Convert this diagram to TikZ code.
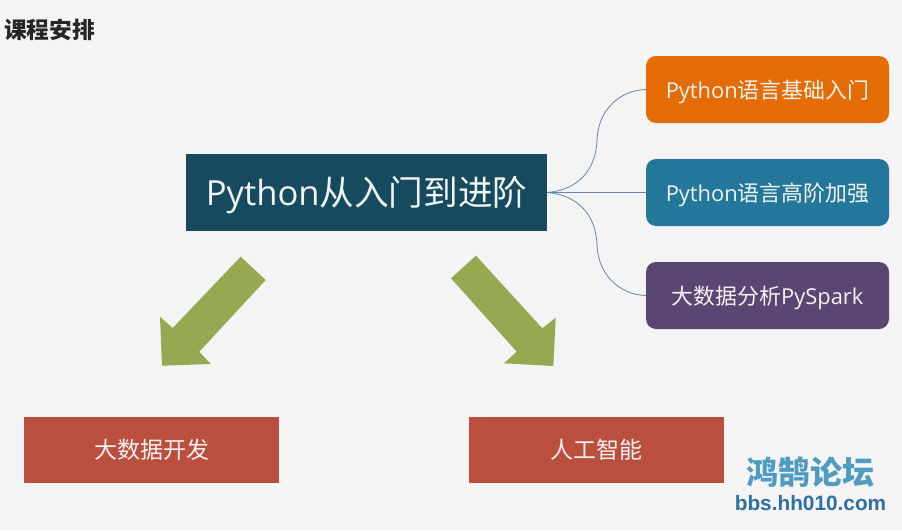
\documentclass[tikz,border=0pt]{standalone}
\usepackage{fontspec}
\setmainfont{Open Sans}
\newfontfamily\cjk{Noto Sans CJK SC}
\newfontfamily\logolat{Liberation Sans}
\begin{document}
\begin{tikzpicture}[x=1pt,y=-1pt,
  boxbase/.style={inner sep=0pt,outer sep=0pt,text=white!95!black,align=center},
  sidebox/.style={boxbase,minimum width=243pt,minimum height=67pt,rounded corners=10pt,text height=22pt,text depth=5pt,font=\fontsize{21.9}{25}\selectfont},
  redbox/.style={boxbase,minimum width=255pt,minimum height=66pt,fill=redb,font=\fontsize{23}{27}\selectfont},
  mainbox/.style={boxbase,minimum width=361pt,minimum height=77pt,fill=mainb,text height=32pt,text depth=6pt,font=\fontsize{34.6}{38}\selectfont},
  link/.style={draw=linkc,line width=0.8pt},
  bigarrow/.style={fill=arrowg,draw=none}]
\definecolor{bg}{HTML}{F4F4F4}
\definecolor{orangeb}{HTML}{E36C05}
\definecolor{tealb}{HTML}{23779A}
\definecolor{purpleb}{HTML}{5A4672}
\definecolor{mainb}{HTML}{164A5F}
\definecolor{redb}{HTML}{BB4F3E}
\definecolor{arrowg}{HTML}{95A950}
\definecolor{linkc}{HTML}{6486AE}
\definecolor{logoa}{HTML}{4F9CC0}
\definecolor{logob}{HTML}{2F6FA3}
\fill[bg] (0,0) rectangle (902,530);
\useasboundingbox (0,0) rectangle (902,530);
\node[anchor=west,inner sep=0pt,font=\fontsize{22.7}{26}\selectfont\cjk\bfseries,text=black!85] (title) at (4,30) {课程安排};
\node[mainbox] (main) at (366.5,192.5) {Python{\cjk 从入门到进阶}};
\node[sidebox,fill=orangeb] (s1) at (767.5,89.5) {Python{\cjk 语言基础入门}};
\node[sidebox,fill=tealb] (s2) at (767.5,192.5) {Python{\cjk 语言高阶加强}};
\node[sidebox,fill=purpleb] (s3) at (767.5,295.5) {{\cjk 大数据分析}PySpark};
\node[redbox] (r1) at (151.5,450) {\cjk 大数据开发};
\node[redbox] (r2) at (596.5,450) {\cjk 人工智能};
\draw[link] (main.east) .. controls (578,190) and (596,170) .. (597,140) .. controls (598,110) and (620,90) .. (s1.west);
\draw[link] (main.east) -- (s2.west);
\draw[link] (main.east) .. controls (578,195) and (596,215) .. (597,245) .. controls (598,275) and (620,295) .. (s3.west);
\fill[bigarrow] (240.7,256.7) -- (265.7,280) -- (199.3,351.7) -- (210.7,364) -- (162,365.7) -- (160,316.7) -- (172.7,328) -- cycle;
\fill[bigarrow] (476,255.7) -- (451,278.3) -- (516.7,351.7) -- (504,363.3) -- (553.3,366) -- (555.7,317.7) -- (542.3,328.3) -- cycle;
\node[inner sep=0pt,font=\fontsize{32}{36}\selectfont\cjk\bfseries,text=logoa] (logo) at (810,472) {鸿鹄论坛};
\node[inner sep=0pt,font=\fontsize{20.8}{24}\selectfont\logolat\bfseries,text=logob] (url) at (810.5,503) {bbs.hh010.com};
\end{tikzpicture}
\end{document}
